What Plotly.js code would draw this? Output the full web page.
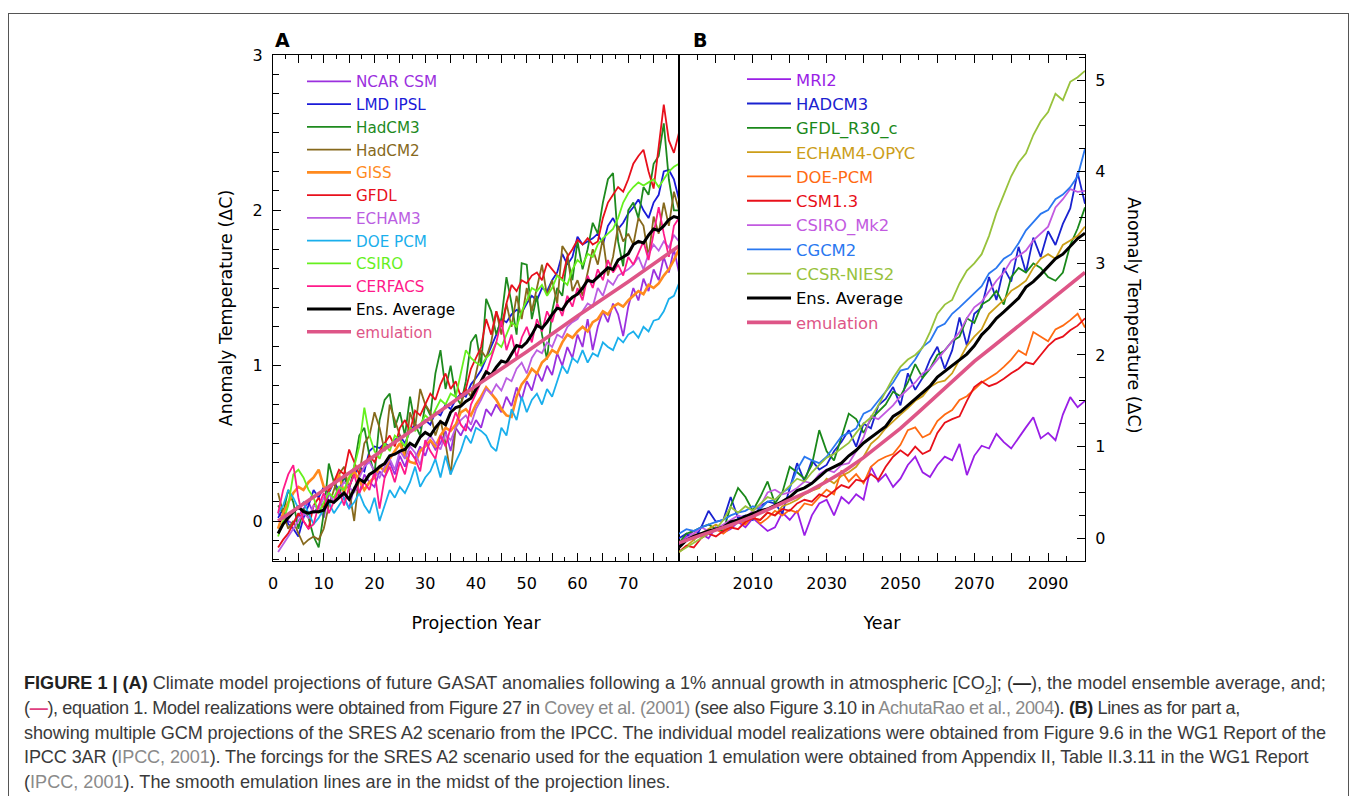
<!DOCTYPE html>
<html><head><meta charset="utf-8">
<script src="https://cdn.plot.ly/plotly-3.0.1.min.js"></script>
<style>
html,body{margin:0;padding:0;background:#fff;}
#wrap{position:relative;width:1357px;height:796px;overflow:hidden;background:#fff;}
#frame{position:absolute;left:8px;top:13px;width:1341px;height:820px;border:1px solid #555;box-sizing:border-box;}
#chart{position:absolute;left:0;top:0;width:1357px;height:796px;}
#caption{position:absolute;left:24px;top:671px;font-family:"Liberation Sans",Arial,sans-serif;font-size:18.1px;line-height:24.75px;color:#3a3a3a;white-space:nowrap;}
#caption b{color:#222}
.g{color:#8a8a8a}
.l2{letter-spacing:-0.38px}
.l3{letter-spacing:-0.12px}
.l4{letter-spacing:-0.12px}
sub{font-size:0.7em;line-height:0;}
</style></head>
<body>
<div id="wrap">
<div id="frame"></div>
<div id="chart"></div>
<div id="caption">
<div><b>FIGURE 1 | (A)</b> Climate model projections of future GASAT anomalies following a 1% annual growth in atmospheric [CO<sub>2</sub>]; (<b>—</b>), the model ensemble average, and;</div>
<div class="l2">(<b style="color:#e0407f">—</b>), equation 1. Model realizations were obtained from Figure 27 in <span class="g">Covey et al. (2001)</span> (see also Figure 3.10 in <span class="g">AchutaRao et al., 2004</span>). <b>(B)</b> Lines as for part a,</div>
<div class="l3">showing multiple GCM projections of the SRES A2 scenario from the IPCC. The individual model realizations were obtained from Figure 9.6 in the WG1 Report of the</div>
<div class="l4">IPCC 3AR (<span class="g">IPCC, 2001</span>). The forcings for the SRES A2 scenario used for the equation 1 emulation were obtained from Appendix II, Table II.3.11 in the WG1 Report</div>
<div>(<span class="g">IPCC, 2001</span>). The smooth emulation lines are in the midst of the projection lines.</div>
</div>
</div>
<script>
// ---------- Panel A data (projection years 1..80) ----------
const yearsA = [1,2,3,4,5,6,7,8,9,10,11,12,13,14,15,16,17,18,19,20,21,22,23,24,25,26,27,28,29,30,31,32,33,34,35,36,37,38,39,40,41,42,43,44,45,46,47,48,49,50,51,52,53,54,55,56,57,58,59,60,61,62,63,64,65,66,67,68,69,70,71,72,73,74,75,76,77,78,79,80];
const ncarCsm = [0.05,0.02,0.00,-0.02,0.03,0.08,0.12,0.05,0.10,0.02, 0.18,0.12,0.20,0.15,0.08,0.22,0.18,0.30,0.25,0.22, 0.32,0.28,0.38,0.30,0.42,0.35,0.45,0.40,0.48,0.42, 0.52,0.46,0.50,0.58,0.45,0.60,0.55,0.62,0.58,0.65, 0.60,0.72,0.68,0.75,0.70,0.80,0.74,0.86,0.78,0.90, 0.84,0.96,0.90,1.00,0.94,1.08,1.00,1.12,1.05,1.20, 1.12,1.30,1.10,1.25,1.35,1.28,1.40,1.33,1.19,1.38, 1.50,1.42,1.56,1.48,1.62,1.55,1.70,1.60,1.75,1.60];
const lmdIpsl = [0.02,0.08,-0.02,-0.05,-0.10,0.02,0.10,0.20,0.15,0.22, 0.18,0.25,0.20,0.28,0.22,0.30,0.35,0.32,0.45,0.48, 0.47,0.50,0.48,0.52,0.55,0.50,0.58,0.62,0.60,0.65, 0.62,0.70,0.68,0.75,0.72,0.78,0.82,0.80,0.88,0.92, 0.97,1.05,1.12,1.20,1.30,1.28,1.33,1.36,1.34,1.40, 1.45,1.42,1.50,1.48,1.55,1.60,1.72,1.65,1.70,1.83, 1.78,1.80,1.82,1.85,1.78,1.90,1.95,1.88,1.92,1.98, 2.02,2.07,2.00,1.95,2.05,2.10,2.25,2.26,2.20,2.07];
const hadcm3A = [0.10,0.05,0.20,0.12,-0.05,0.08,0.02,-0.10,-0.17,0.05, 0.37,0.25,0.15,0.30,0.20,0.35,0.55,0.60,0.42,0.30, 0.65,0.78,0.82,0.60,0.70,0.55,0.80,0.62,0.55,0.75, 0.68,0.95,1.10,0.85,1.00,0.80,0.75,0.90,1.15,1.20, 1.00,1.43,1.35,1.20,1.30,1.57,1.40,1.20,1.66,1.65, 1.30,1.45,1.20,1.04,1.35,1.50,1.45,1.70,1.55,1.80, 1.62,1.75,1.92,1.85,2.05,2.20,2.24,1.80,1.64,2.00, 2.05,1.95,2.15,2.10,2.30,2.35,2.56,2.20,2.00,2.00];
const hadcm2 = [0.18,0.05,-0.05,0.00,-0.08,-0.15,-0.12,-0.10,-0.12,-0.05, 0.10,0.20,0.30,0.35,0.20,0.00,0.30,0.50,0.55,0.70, 0.60,0.45,0.75,0.65,0.55,0.40,0.70,0.60,0.85,0.75, 0.70,0.55,0.65,0.50,0.30,0.60,0.75,0.85,0.80,0.95, 1.10,1.05,1.15,1.35,1.20,1.40,1.25,1.45,1.30,1.50, 1.35,1.50,1.65,1.45,1.55,1.40,1.77,1.72,1.48,1.55, 1.45,1.60,1.75,1.65,1.82,1.58,1.70,1.90,1.80,1.85, 1.78,1.95,1.90,1.70,1.96,1.85,2.05,1.90,2.12,2.00];
const giss = [-0.05,0.05,0.12,0.18,0.22,0.20,0.25,0.28,0.33,0.22, 0.20,0.25,0.30,0.18,0.28,0.32,0.26,0.20,0.25,0.28, 0.35,0.32,0.40,0.45,0.50,0.42,0.38,0.37,0.45,0.48, 0.52,0.48,0.55,0.60,0.58,0.62,0.70,0.72,0.68,0.75, 0.80,0.86,0.82,0.78,0.72,0.68,0.67,0.80,0.88,0.92, 0.98,0.95,1.02,1.05,1.10,1.08,1.15,1.20,1.18,1.22, 1.25,1.22,1.28,1.30,1.35,1.33,1.38,1.40,1.38,1.42, 1.45,1.48,1.46,1.52,1.50,1.53,1.58,1.62,1.68,1.75];
const gfdlA = [-0.17,-0.12,-0.08,-0.02,0.05,0.00,-0.05,0.10,0.15,0.08, 0.20,0.25,0.33,0.30,0.46,0.38,0.30,0.35,0.42,0.38, 0.45,0.50,0.55,0.48,0.60,0.65,0.58,0.71,0.68,0.75, 0.82,0.78,0.88,0.95,0.85,0.90,0.80,0.85,0.98,1.05, 1.12,1.30,1.20,1.35,1.25,1.40,1.52,1.48,1.55,1.53, 1.58,1.60,1.55,1.66,1.62,1.58,1.56,1.70,1.75,1.81, 1.78,1.82,1.78,1.80,1.95,2.05,2.10,2.15,2.12,2.20, 2.30,2.35,2.39,2.25,2.14,2.40,2.68,2.45,2.37,2.50];
const echam3 = [-0.20,-0.15,-0.10,-0.05,0.00,0.05,0.02,0.10,0.08,0.15, 0.18,0.12,0.20,0.25,0.22,0.18,0.28,0.35,0.38,0.32, 0.28,0.35,0.40,0.33,0.45,0.40,0.48,0.44,0.36,0.50, 0.55,0.50,0.46,0.56,0.52,0.60,0.65,0.68,0.62,0.72, 0.78,0.85,0.82,0.88,0.84,0.92,0.90,0.98,1.02,0.95, 1.05,1.10,1.08,1.15,1.12,1.20,1.18,1.25,1.28,1.30, 1.35,1.40,1.38,1.50,1.45,1.55,1.52,1.58,1.60,1.62, 1.65,1.70,1.62,1.72,1.78,1.74,1.80,1.76,1.84,1.80];
const doePcmA = [0.05,0.10,0.20,0.15,0.08,0.12,0.05,-0.02,0.02,0.08, 0.12,0.05,0.10,0.15,0.08,0.12,0.18,0.10,0.05,0.15, 0.00,0.10,0.20,0.15,0.22,0.18,0.25,0.35,0.22,0.28, 0.32,0.40,0.28,0.42,0.30,0.38,0.45,0.55,0.50,0.60, 0.58,0.55,0.48,0.45,0.60,0.55,0.72,0.65,0.80,0.70, 0.78,0.82,0.75,0.85,0.80,0.90,1.00,0.95,1.05,1.02, 1.10,1.02,1.08,1.06,1.15,1.12,1.10,1.18,1.15,1.20, 1.22,1.18,1.25,1.22,1.29,1.30,1.35,1.43,1.45,1.53];
const csiroA = [-0.10,0.00,0.10,0.30,0.33,0.28,0.20,0.15,0.05,0.12, 0.18,0.15,0.22,0.20,0.28,0.35,0.48,0.73,0.55,0.45, 0.40,0.50,0.45,0.55,0.52,0.48,0.60,0.58,0.62,0.68, 0.65,0.72,0.78,0.75,0.82,0.80,0.95,1.10,1.05,1.02, 1.00,1.05,1.08,1.15,1.12,1.20,1.28,1.25,1.35,1.42, 1.50,1.48,1.52,1.45,1.50,1.58,1.55,1.52,1.62,1.68, 1.65,1.72,1.70,1.78,1.82,1.85,1.88,1.95,2.05,2.11, 2.15,2.18,2.16,2.18,2.20,2.15,2.20,2.25,2.28,2.30];
const cerfacs = [0.05,0.20,0.30,0.36,0.15,0.00,-0.05,-0.02,0.10,0.18, 0.05,0.12,0.20,0.10,0.22,0.30,0.18,0.25,0.20,0.32, 0.08,0.28,0.35,0.25,0.38,0.30,0.45,0.40,0.32,0.52, 0.45,0.40,0.55,0.48,0.60,0.70,0.62,0.58,0.75,0.82, 0.90,0.95,1.05,1.15,1.29,1.10,1.20,1.05,1.18,1.25, 1.15,1.30,1.22,1.35,1.28,1.40,1.32,1.45,1.38,1.50, 1.42,1.58,1.50,1.62,1.55,1.68,1.60,1.65,1.58,1.70, 1.65,1.72,1.80,1.68,1.85,2.02,1.85,1.70,1.90,1.95];
const ensAvgA = [-0.08,-0.02,0.02,0.06,0.09,0.06,0.05,0.06,0.06,0.07, 0.13,0.12,0.15,0.18,0.14,0.20,0.27,0.25,0.30,0.32, 0.35,0.37,0.42,0.43,0.45,0.46,0.50,0.48,0.54,0.57, 0.55,0.60,0.64,0.62,0.70,0.73,0.74,0.77,0.79,0.85, 0.90,0.96,0.94,0.99,1.03,1.02,1.08,1.13,1.12,1.15, 1.20,1.26,1.24,1.28,1.33,1.37,1.36,1.41,1.44,1.46, 1.50,1.55,1.54,1.57,1.60,1.63,1.62,1.68,1.70,1.72, 1.78,1.80,1.79,1.84,1.88,1.87,1.90,1.94,1.96,1.95];
const emuYearsA = [1,10,20,30,40,50,60,70,80];
const emulationA = [0.00,0.20,0.42,0.64,0.87,1.09,1.32,1.54,1.77];

// ---------- Panel B data (SRES A2, 1990..2100) ----------
const yearsB = [1990,1992,1994,1996,1998,2000,2002,2004,2006,2008,2010,2012,2014,2016,2018,2020,2022,2024,2026,2028,2030,2032,2034,2036,2038,2040,2042,2044,2046,2048,2050,2052,2054,2056,2058,2060,2062,2064,2066,2068,2070,2072,2074,2076,2078,2080,2082,2084,2086,2088,2090,2092,2094,2096,2098,2100];
const mri2 = [-0.08,0.02,0.08,0.05,0.00,0.12,0.06,0.10,0.18,0.12, 0.22,0.15,0.08,0.12,0.28,0.20,0.30,0.03,0.25,0.38, 0.42,0.25,0.45,0.38,0.48,0.42,0.78,0.62,0.70,0.56, 0.65,0.80,0.89,0.72,0.67,0.80,0.89,0.85,1.03,0.69, 0.90,1.01,0.98,1.14,1.05,0.98,1.10,1.21,1.32,1.09, 1.15,1.07,1.35,1.54,1.43,1.50];
const hadcm3B = [0.00,0.05,-0.02,0.12,0.30,0.18,0.20,0.45,0.22,0.25, 0.20,0.35,0.40,0.38,0.27,0.55,0.82,0.62,0.85,0.75, 0.80,0.95,1.05,1.18,1.00,1.25,1.20,1.45,1.52,1.65, 1.45,1.80,1.62,1.75,1.95,2.09,1.85,2.05,2.41,2.10, 2.45,2.52,2.85,2.60,2.95,2.80,3.18,2.90,3.28,3.07, 3.35,3.20,3.43,3.60,3.99,3.65];
const gfdlR30 = [-0.05,0.05,0.08,0.12,0.15,0.10,0.08,0.35,0.55,0.45, 0.30,0.45,0.62,0.38,0.50,0.78,0.72,0.65,0.80,1.18, 0.95,0.85,1.10,1.36,1.30,1.15,1.30,1.38,1.46,1.60, 1.55,1.70,1.90,1.75,1.85,2.00,2.05,2.15,2.20,2.40, 2.35,2.55,2.60,2.70,2.55,2.85,2.95,2.90,3.00,2.95, 2.85,2.81,2.90,3.20,3.38,3.61];
const echam4 = [-0.15,-0.08,-0.02,0.05,0.10,0.15,0.10,0.12,0.20,0.18, 0.22,0.20,0.28,0.25,0.35,0.38,0.42,0.48,0.52,0.55, 0.65,0.60,0.68,0.72,0.78,0.89,1.03,1.10,1.20,1.28, 1.35,1.42,1.50,1.55,1.65,1.70,1.72,1.80,1.95,2.10, 2.20,2.28,2.45,2.52,2.60,2.70,2.75,2.81,2.95,3.05, 3.10,3.05,3.20,3.25,3.30,3.40];
const doePcmB = [-0.10,-0.02,0.05,0.02,0.08,0.10,0.05,0.12,0.20,0.15, 0.25,0.16,0.22,0.30,0.25,0.31,0.28,0.38,0.36,0.45, 0.53,0.48,0.74,0.62,0.70,0.60,0.78,0.85,0.89,0.92, 1.02,1.18,1.21,1.10,1.14,1.28,1.35,1.40,1.51,1.55, 1.62,1.70,1.75,1.80,1.87,1.95,2.05,2.00,2.25,2.20, 2.15,2.28,2.32,2.38,2.45,2.30];
const csm13 = [-0.15,-0.08,-0.10,0.00,0.05,0.02,0.08,0.12,0.10,0.18, 0.22,0.20,0.28,0.25,0.32,0.30,0.38,0.42,0.40,0.48, 0.45,0.52,0.58,0.55,0.64,0.62,0.70,0.64,0.78,0.89, 0.96,0.90,1.00,0.92,0.96,1.15,1.26,1.30,1.33,1.50, 1.65,1.71,1.66,1.69,1.74,1.80,1.85,1.92,1.90,2.00, 2.10,2.17,2.20,2.27,2.32,2.40];
const csiroMk2 = [-0.10,0.00,0.05,0.12,0.08,0.10,0.15,0.20,0.25,0.22, 0.30,0.35,0.50,0.53,0.48,0.50,0.55,0.62,0.60,0.70, 0.75,0.72,0.80,0.82,0.95,1.10,1.33,1.30,1.38,1.45, 1.55,1.62,1.70,1.80,1.85,1.95,2.05,2.15,2.25,2.40, 2.52,2.58,2.70,2.81,2.90,3.03,3.08,3.14,3.25,3.32, 3.40,3.61,3.70,3.81,3.78,3.79];
const cgcm2 = [0.05,0.10,0.08,0.12,0.15,0.18,0.20,0.25,0.28,0.30, 0.35,0.32,0.40,0.42,0.50,0.55,0.75,0.89,0.85,0.82, 0.89,1.00,1.11,1.15,1.20,1.36,1.40,1.50,1.60,1.70, 1.83,1.85,1.95,2.09,2.15,2.30,2.34,2.45,2.52,2.60, 2.67,2.75,2.89,2.95,3.05,3.10,3.22,3.36,3.45,3.54, 3.58,3.70,3.75,3.83,3.95,4.25];
const ccsrNies2 = [-0.15,-0.10,-0.05,0.00,0.05,0.10,0.20,0.34,0.28,0.35, 0.30,0.38,0.45,0.42,0.50,0.58,0.65,0.62,0.72,0.80, 0.88,0.92,0.98,1.04,1.15,1.25,1.32,1.45,1.60,1.75, 1.87,1.95,2.00,2.08,2.25,2.45,2.55,2.60,2.78,2.92, 3.00,3.10,3.30,3.55,3.75,3.95,4.10,4.20,4.40,4.55, 4.65,4.85,4.78,4.98,5.03,5.10];
const ensAvgB = [-0.10,-0.02,0.02,0.05,0.08,0.10,0.12,0.18,0.20,0.24, 0.27,0.30,0.32,0.36,0.40,0.45,0.52,0.55,0.60,0.67, 0.74,0.78,0.82,0.90,0.96,1.04,1.10,1.15,1.22,1.33, 1.38,1.45,1.52,1.58,1.66,1.76,1.82,1.88,1.95,2.01, 2.10,2.22,2.30,2.40,2.47,2.55,2.62,2.74,2.80,2.88, 2.97,3.05,3.10,3.18,3.27,3.33];
const emuYearsB = [1990,1995,2000,2005,2010,2015,2020,2025,2030,2035,2040,2045,2050,2055,2060,2065,2070,2075,2080,2085,2090,2095,2100];
const emulationB = [-0.05,0.02,0.08,0.16,0.24,0.33,0.42,0.51,0.62,0.74,0.88,1.04,1.20,1.38,1.56,1.75,1.93,2.09,2.25,2.42,2.58,2.74,2.90];

// tick labels
const tickValsA = [0,5,10,15,20,25,30,35,40,45,50,55,60,65,70,75];
const tickTextA = ['0','','10','','20','','30','','40','','50','','60','','70',''];
const tickValsB = [2000,2010,2020,2030,2040,2050,2060,2070,2080,2090];
const tickTextB = ['','2010','','2030','','2050','','2070','','2090'];

const seriesA = [
  ['NCAR CSM', yearsA, ncarCsm, '#9b30de', 1.8],
  ['LMD IPSL', yearsA, lmdIpsl, '#1a1ad8', 1.8],
  ['HadCM3', yearsA, hadcm3A, '#1e8a1e', 1.8],
  ['HadCM2', yearsA, hadcm2, '#86691c', 1.8],
  ['GISS', yearsA, giss, '#ff8a1e', 2.6],
  ['GFDL', yearsA, gfdlA, '#e8101c', 1.8],
  ['ECHAM3', yearsA, echam3, '#bb5ee2', 1.8],
  ['DOE PCM', yearsA, doePcmA, '#1aafec', 1.8],
  ['CSIRO', yearsA, csiroA, '#66f01e', 1.8],
  ['CERFACS', yearsA, cerfacs, '#ff1a8a', 1.8],
  ['Ens. Average', yearsA, ensAvgA, '#000000', 3],
  ['emulation', emuYearsA, emulationA, '#de5587', 3.6]
];
const seriesB = [
  ['MRI2', yearsB, mri2, '#9a1ee6', 1.8],
  ['HADCM3', yearsB, hadcm3B, '#1a22d0', 1.8],
  ['GFDL_R30_c', yearsB, gfdlR30, '#1a881a', 1.8],
  ['ECHAM4-OPYC', yearsB, echam4, '#cc9e18', 1.8],
  ['DOE-PCM', yearsB, doePcmB, '#ff6a12', 1.8],
  ['CSM1.3', yearsB, csm13, '#e8101a', 1.8],
  ['CSIRO_Mk2', yearsB, csiroMk2, '#c25ae0', 1.8],
  ['CGCM2', yearsB, cgcm2, '#2a78f0', 1.8],
  ['CCSR-NIES2', yearsB, ccsrNies2, '#98c23c', 1.8],
  ['Ens. Average', yearsB, ensAvgB, '#000000', 3],
  ['emulation', emuYearsB, emulationB, '#de5587', 3.6]
];

const data = [];
seriesA.forEach(s => data.push({type:'scatter', mode:'lines', x:s[1], y:s[2], xaxis:'x', yaxis:'y', legend:'legend',
  name:'<span style="color:' + (s[0]==='Ens. Average' ? '#000' : s[3]) + '">' + s[0] + '</span>',
  line:{color:s[3], width:s[4]}, hoverinfo:'skip'}));
seriesB.forEach(s => data.push({type:'scatter', mode:'lines', x:s[1], y:s[2], xaxis:'x2', yaxis:'y2', legend:'legend2',
  name:'<span style="color:' + (s[0]==='Ens. Average' ? '#000' : s[3]) + '">' + s[0] + '</span>',
  line:{color:s[3], width:s[4]}, hoverinfo:'skip'}));

const W = 1357, H = 796;
const px = v => v / W, py = v => (H - v) / H;
const axCommon = {showline:true, linecolor:'#000', linewidth:1, showgrid:false, zeroline:false,
  ticks:'inside', tickcolor:'#000', tickwidth:1, automargin:false, fixedrange:true,
  tickfont:{family:'DejaVu Sans', size:16, color:'#000'}};

const layout = {
  width:W, height:H, margin:{l:0, r:0, t:0, b:0},
  paper_bgcolor:'rgba(0,0,0,0)', plot_bgcolor:'rgba(0,0,0,0)',
  font:{family:'DejaVu Sans', color:'#000'},
  showlegend:true,
  xaxis:Object.assign({}, axCommon, {domain:[px(273), px(679)], anchor:'y', range:[0,80],
    tickmode:'array', tickvals:tickValsA, ticktext:tickTextA, ticklen:8, mirror:'ticks', ticklabelstandoff:8,
    minor:{tickmode:'linear', tick0:0, dtick:2.5, ticks:'inside', ticklen:4, tickcolor:'#000', showgrid:false},
    title:{text:'Projection Year', font:{family:'DejaVu Sans', size:17.5}, standoff:24}}),
  yaxis:Object.assign({}, axCommon, {domain:[py(561), py(55)], anchor:'x', range:[-0.2575, 3.0],
    tickmode:'array', tickvals:[0,1,2,3], ticklen:8, mirror:true, ticklabelstandoff:6,
    minor:{tickmode:'linear', tick0:0, dtick:0.125, ticks:'inside', ticklen:6, tickcolor:'#000', showgrid:false},
    title:{text:'Anomaly Temperature (ΔC)', font:{family:'DejaVu Sans', size:17.5}, standoff:15}}),
  xaxis2:Object.assign({}, axCommon, {domain:[px(679), px(1085)], anchor:'y2', range:[1990,2100],
    tickmode:'array', tickvals:tickValsB, ticktext:tickTextB, ticklen:8, mirror:'ticks', ticklabelstandoff:8,
    minor:{tickmode:'linear', tick0:1990, dtick:5, ticks:'inside', ticklen:5, tickcolor:'#000', showgrid:false},
    title:{text:'Year', font:{family:'DejaVu Sans', size:17.5}, standoff:24}}),
  yaxis2:Object.assign({}, axCommon, {domain:[py(561), py(55)], anchor:'x2', side:'right', range:[-0.2477, 5.273],
    tickmode:'array', tickvals:[0,1,2,3,4,5], ticklen:8, mirror:true, ticklabelstandoff:6,
    minor:{tickmode:'linear', tick0:0, dtick:0.25, ticks:'inside', ticklen:6, tickcolor:'#000', showgrid:false}}),
  legend:{x:px(302), y:py(65), xanchor:'left', yanchor:'top', bgcolor:'rgba(0,0,0,0)', borderwidth:0,
    font:{family:'DejaVu Sans', size:15.2}, itemwidth:44, traceorder:'normal', itemclick:false, itemdoubleclick:false},
  legend2:{x:px(742), y:py(62), xanchor:'left', yanchor:'top', bgcolor:'rgba(0,0,0,0)', borderwidth:0,
    font:{family:'DejaVu Sans', size:16.4}, itemwidth:44, traceorder:'normal', itemclick:false, itemdoubleclick:false},
  annotations:[
    {text:'<b>A</b>', xref:'paper', yref:'paper', x:px(282), y:py(40), showarrow:false, xanchor:'center', yanchor:'middle', font:{family:'DejaVu Sans', size:19, color:'#000'}},
    {text:'<b>B</b>', xref:'paper', yref:'paper', x:px(700), y:py(40), showarrow:false, xanchor:'center', yanchor:'middle', font:{family:'DejaVu Sans', size:19, color:'#000'}},
    {text:'Anomaly Temperature (ΔC)', xref:'paper', yref:'paper', x:px(1134), y:py(315), showarrow:false, textangle:90, xanchor:'center', yanchor:'middle', font:{family:'DejaVu Sans', size:17.5, color:'#000'}}
  ]
};

Plotly.newPlot('chart', data, layout, {displayModeBar:false, staticPlot:true});
</script>
</body></html>
